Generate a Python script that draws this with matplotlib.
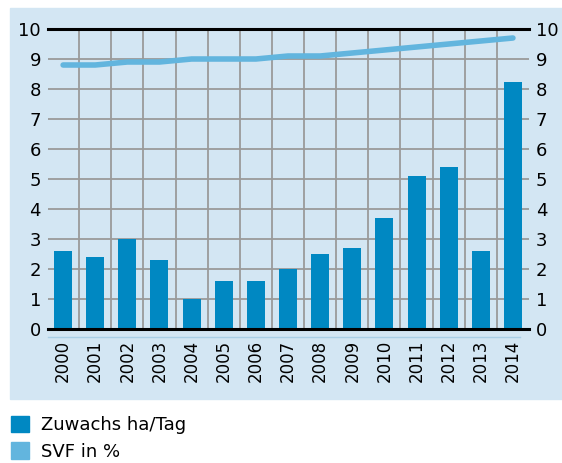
import matplotlib.pyplot as plt
from matplotlib.patches import Patch, Rectangle
from matplotlib.lines import Line2D

# data
years = ['2000', '2001', '2002', '2003', '2004', '2005', '2006', '2007',
         '2008', '2009', '2010', '2011', '2012', '2013', '2014']
zuwachs = [2.6, 2.4, 3.0, 2.3, 1.0, 1.6, 1.6, 2.0, 2.5, 2.7, 3.7, 5.1, 5.4, 2.6, 8.25]
svf = [8.8, 8.8, 8.9, 8.9, 9.0, 9.0, 9.0, 9.1, 9.1, 9.2, 9.3, 9.4, 9.5, 9.6, 9.7]

bar_color = '#0088c2'
line_color = '#62b5de'
bg_color = '#d3e6f3'

fig = plt.figure(figsize=(5.62, 4.63), dpi=100)
fig.patches.append(Rectangle((10 / 562, 1 - 399 / 463), 552 / 562, 391 / 463,
                             transform=fig.transFigure, color=bg_color, zorder=-5))

ax = fig.add_axes([48 / 562, 134 / 463, 481 / 562, 300 / 463])
ax.set_zorder(2)
ax.set_facecolor('none')
x = range(len(years))
ax.bar(x, zuwachs, width=0.56, color=bar_color, zorder=3)
ax.plot(x, svf, color=line_color, lw=4, solid_capstyle='round', zorder=4)

ax.set_xlim(-0.47, 14.5)
ax.set_ylim(0, 10)
ax.set_yticks(range(11))
ax.set_xticks(list(x))
ax.set_xticklabels(years, rotation=90, fontsize=12)
ax.set_xticks([i + 0.5 for i in range(14)], minor=True)
ax.grid(axis='y', color='#9a9a9a', lw=1.3, zorder=1)
ax.grid(axis='x', which='minor', color='#9a9a9a', lw=1.3, zorder=1)
ax.set_axisbelow(True)
ax.tick_params(axis='x', which='both', length=0, pad=8)
ax.tick_params(axis='y', length=0, labelsize=13, pad=5, right=True, labelright=True)

for s in ['left', 'right']:
    ax.spines[s].set_visible(False)
for s in ['top', 'bottom']:
    ax.spines[s].set_linewidth(2.2)
    ax.spines[s].set_color('black')
    ax.spines[s].set_zorder(5)

fig.add_artist(Line2D([48 / 562, 520 / 562], [1 - 337 / 463] * 2,
                      transform=fig.transFigure, color='#a9cfe6', lw=1, zorder=3))

handles = [Patch(color=bar_color, label='Zuwachs ha/Tag'),
           Patch(color=line_color, label='SVF in %')]
fig.legend(handles=handles, loc='lower left', bbox_to_anchor=(-0.01, -0.03),
           frameon=False, fontsize=13, handlelength=1.0, handleheight=1.0,
           handletextpad=0.7, labelspacing=0.45)

fig.savefig('out.png', dpi=100)
